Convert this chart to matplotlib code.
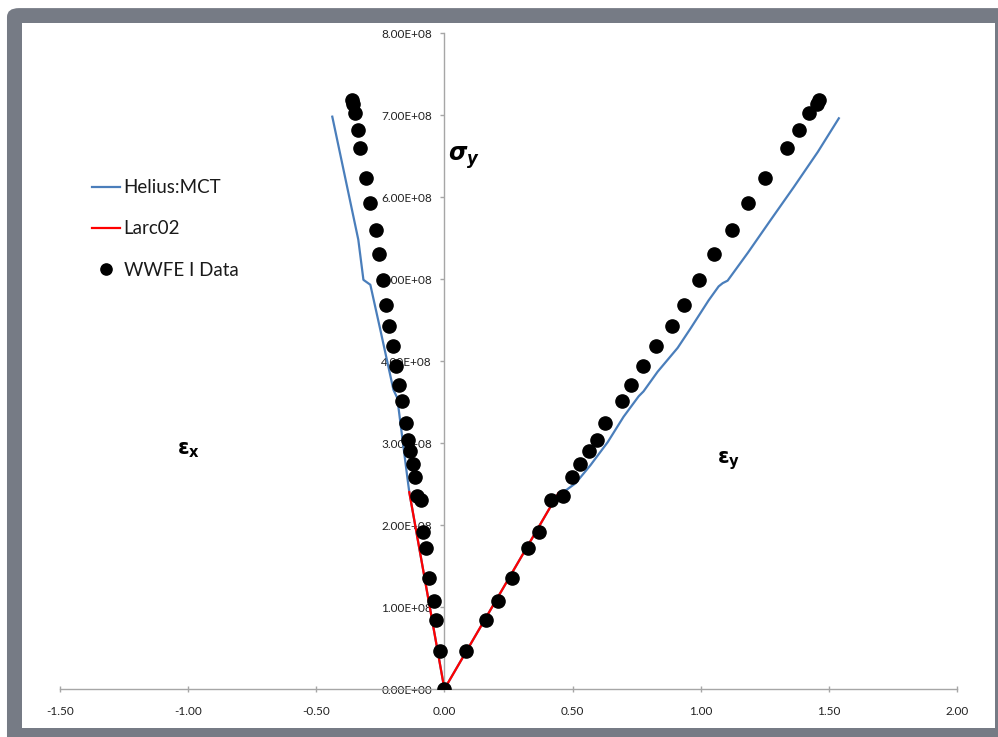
import numpy as np
import matplotlib
matplotlib.use("Agg")
import matplotlib.pyplot as plt
from matplotlib.patches import Rectangle, FancyBboxPatch
from matplotlib.ticker import FuncFormatter

plt.rcParams['font.family'] = ['Lato', 'DejaVu Sans']
plt.rcParams['mathtext.fontset'] = 'dejavusans'

# WWFE I test data (stress in Pa, strain in %)
stress_data = np.array([0.463, 0.841, 1.073, 1.354, 1.720, 1.915, 2.305, 2.354, 2.585,
                        2.744, 2.902, 3.037, 3.244, 3.512, 3.707, 3.939, 4.183, 4.427,
                        4.683, 4.988, 5.305, 5.598, 5.927, 6.232, 6.598, 6.817, 7.024,
                        7.134, 7.183]) * 1e8
ex_data = [-0.016, -0.031, -0.039, -0.059, -0.070, -0.082, -0.090, -0.105, -0.113,
           -0.121, -0.133, -0.141, -0.148, -0.164, -0.176, -0.188, -0.199, -0.215,
           -0.227, -0.238, -0.254, -0.266, -0.289, -0.305, -0.328, -0.336, -0.348,
           -0.355, -0.359]
ey_data = [0.086, 0.164, 0.211, 0.262, 0.328, 0.371, 0.414, 0.461, 0.496,
           0.531, 0.566, 0.594, 0.625, 0.691, 0.730, 0.773, 0.824, 0.887,
           0.934, 0.992, 1.051, 1.121, 1.184, 1.250, 1.336, 1.383, 1.422,
           1.453, 1.461]

# Helius:MCT prediction
hel_ex = [0.0, -0.137, -0.145, -0.184, -0.199, -0.250, -0.289, -0.316, -0.336, -0.4375]
hel_sx = np.array([0.0, 2.40, 2.59, 3.55, 3.65, 4.38, 4.93, 4.99, 5.48, 6.98]) * 1e8
hel_ey = [0.0, 0.445, 0.477, 0.512, 0.570, 0.637, 0.699, 0.758, 0.777, 0.832, 0.910,
          0.961, 1.031, 1.070, 1.086, 1.105, 1.184, 1.273, 1.363, 1.457, 1.539]
hel_sy = np.array([0.0, 2.39, 2.43, 2.51, 2.73, 3.01, 3.32, 3.57, 3.63, 3.87, 4.16,
                   4.40, 4.74, 4.91, 4.95, 4.98, 5.32, 5.72, 6.12, 6.55, 6.96]) * 1e8

# Larc02 prediction
larc_ex = [0.0, -0.137]
larc_sx = np.array([0.0, 2.40]) * 1e8
larc_ey = [0.0, 0.445]
larc_sy = np.array([0.0, 2.39]) * 1e8

xticks = [-1.5, -1.0, -0.5, 0.0, 0.5, 1.0, 1.5, 2.0]
yticks = np.arange(0, 9) * 1e8

fig = plt.figure(figsize=(9.98, 7.37), dpi=100)
fig.patch.set_facecolor('white')

# excel-like grey frame
outer = FancyBboxPatch((0.007, -0.05), 1.2, 0.05 + 0.989, boxstyle="round,pad=0,rounding_size=0.012",
                       transform=fig.transFigure, facecolor='#767b85', edgecolor='none', zorder=-3)
inner = Rectangle((0.022, 0.0122), 0.975, 0.9688 - 0.0122, transform=fig.transFigure,
                  facecolor='white', edgecolor='none', zorder=-2)
fig.add_artist(outer)
fig.add_artist(inner)

ax = fig.add_axes([0.0601, 0.0651, 0.8988, 0.8901])
ax.set_facecolor('none')

blue = '#4a7ebb'
l1, = ax.plot(hel_ex, hel_sx, color=blue, lw=1.6, zorder=2)
ax.plot(hel_ey, hel_sy, color=blue, lw=1.6, zorder=2)
l2, = ax.plot(larc_ex, larc_sx, color='#ff0000', lw=1.6, zorder=3)
ax.plot(larc_ey, larc_sy, color='#ff0000', lw=1.6, zorder=3)
l3, = ax.plot([0.0] + ex_data, np.concatenate([[0.0], stress_data]), 'o', color='black',
              ms=9.5, ls='none', zorder=4)
ax.plot(ey_data, stress_data, 'o', color='black', ms=9.5, ls='none', zorder=4)

ax.set_xlim(-1.5, 2.0)
ax.set_ylim(0, 8e8)
ax.spines['left'].set_position(('data', 0))
ax.spines['bottom'].set_position(('data', 0))
ax.spines['top'].set_visible(False)
ax.spines['right'].set_visible(False)
for s in ('left', 'bottom'):
    ax.spines[s].set_color('#a6a6a6')
    ax.spines[s].set_linewidth(1.0)
ax.set_xticks(xticks)
ax.set_yticks(yticks)
ax.xaxis.set_major_formatter(FuncFormatter(lambda v, p: f"{v:.2f}"))
ax.yaxis.set_major_formatter(FuncFormatter(lambda v, p: f"{v:.2E}"))
ax.tick_params(axis='x', direction='inout', length=5, width=1, color='#a6a6a6',
               labelsize=8.5, labelcolor='#222222', pad=10)
ax.tick_params(axis='y', direction='out', length=3, width=1, color='#a6a6a6',
               labelsize=8.5, labelcolor='#222222', pad=6)

leg = ax.legend([l1, l2, l3], ['Helius:MCT', 'Larc02', 'WWFE I Data'],
                loc='upper left', bbox_to_anchor=(0.092, 0.757), bbox_transform=fig.transFigure,
                frameon=False, fontsize=13.5, handlelength=1.5, handletextpad=0.2,
                labelspacing=1.3, borderpad=0, borderaxespad=0, markerscale=0.85)
for t in leg.get_texts():
    t.set_color('#1a1a1a')

# axis symbols
ax.text(0.075, 6.48e8, r'$\boldsymbol{\sigma}_{\boldsymbol{y}}$', fontsize=17,
        ha='center', va='center')
ax.text(-1.0, 2.92e8, r'$\mathbf{\varepsilon}_{\mathbf{x}}$', fontsize=15,
        ha='center', va='center')
ax.text(1.11, 2.78e8, r'$\mathbf{\varepsilon}_{\mathbf{y}}$', fontsize=15,
        ha='center', va='center')

fig.savefig('out.png', dpi=100)
